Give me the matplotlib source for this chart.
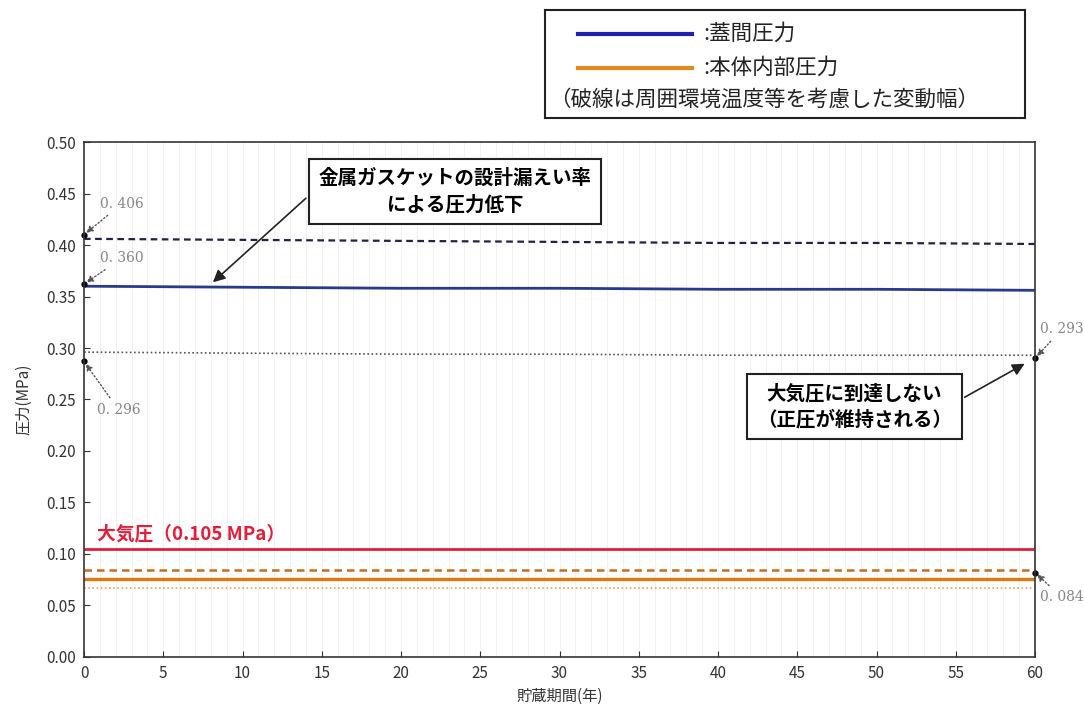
import matplotlib
matplotlib.use("Agg")
import matplotlib.pyplot as plt
import numpy as np

plt.rcParams['font.family'] = ['Noto Sans CJK JP', 'DejaVu Sans']

years = [0, 10, 20, 30, 40, 50, 60]
lid_solid = [0.360, 0.359, 0.358, 0.358, 0.357, 0.357, 0.356]
lid_upper = [0.406, 0.405, 0.404, 0.403, 0.402, 0.402, 0.401]
lid_lower = [0.296, 0.295, 0.294, 0.294, 0.293, 0.293, 0.293]
atm = [0.105, 0.105, 0.105, 0.105, 0.105, 0.105, 0.105]
body_upper = [0.084, 0.084, 0.084, 0.084, 0.084, 0.084, 0.084]
body_solid = [0.076, 0.076, 0.076, 0.076, 0.076, 0.076, 0.076]
body_lower = [0.067, 0.067, 0.067, 0.067, 0.067, 0.067, 0.067]

xticks = [0, 5, 10, 15, 20, 25, 30, 35, 40, 45, 50, 55, 60]
yticks = [0.00, 0.05, 0.10, 0.15, 0.20, 0.25, 0.30, 0.35, 0.40, 0.45, 0.50]

fig = plt.figure(figsize=(10.84, 7.18), dpi=100)
ax = fig.add_axes([0.0775, 0.085, 0.8773, 0.7172])

for yr in range(1, 60):
    ax.axvline(yr, color='#efefef', lw=0.6, zorder=0)

ax.plot(years, lid_upper, color='#222244', lw=1.6, ls=(0, (3, 2)))
ax.plot(years, lid_solid, color='#2a3a8a', lw=2.0)
ax.plot(years, lid_lower, color='#555555', lw=1.2, ls=(0, (1, 1.5)))
ax.plot(years, atm, color='#e0203a', lw=2.0)
ax.plot(years, body_upper, color='#c07020', lw=1.8, ls=(0, (3, 2)))
ax.plot(years, body_solid, color='#e07a10', lw=2.4)
ax.plot(years, body_lower, color='#e8a060', lw=1.2, ls=(0, (1, 1.5)))

ax.set_xlim(0, 60)
ax.set_ylim(0, 0.5)
ax.set_xticks(xticks)
ax.set_yticks(yticks)
ax.set_yticklabels([f"{v:.2f}" for v in yticks])
ax.tick_params(labelsize=11, colors='#333333', direction='in', length=4, pad=6)
for s in ax.spines.values():
    s.set_color('#333333')
    s.set_linewidth(1.2)
ax.set_xlabel('貯蔵期間(年)', fontsize=11, color='#333333')
ax.set_ylabel('圧力(MPa)', fontsize=11, color='#333333', labelpad=10)

# atmospheric label
ax.text(0.8, 0.110, '大気圧（0.105 MPa）', color='#e0203a', fontsize=13.5,
        fontweight='bold', va='bottom')

# value annotations
grey = '#888888'
ann_kw = dict(fontsize=10, color=grey, family=['DejaVu Serif'])
arrow_kw = dict(arrowstyle='-|>', color='#555555', ls=':', lw=1.0)
ax.annotate('0. 406', xy=(0, 0.41), xytext=(1.0, 0.44), arrowprops=arrow_kw, va='center', **ann_kw)
ax.annotate('0. 360', xy=(0, 0.362), xytext=(1.0, 0.387), arrowprops=arrow_kw, va='center', **ann_kw)
ax.annotate('0. 296', xy=(0, 0.287), xytext=(0.8, 0.24), arrowprops=arrow_kw, va='center', **ann_kw)
ax.annotate('0. 293', xy=(60, 0.290), xytext=(60.3, 0.318), arrowprops=arrow_kw, va='center',
            annotation_clip=False, **ann_kw)
ax.annotate('0. 084', xy=(60, 0.082), xytext=(60.3, 0.058), arrowprops=arrow_kw, va='center',
            annotation_clip=False, **ann_kw)
for (px, py) in [(0, 0.41), (0, 0.362), (0, 0.287), (60, 0.290), (60, 0.082)]:
    ax.plot([px], [py], 'o', color='black', ms=3.5, clip_on=False)

box_kw = dict(boxstyle='square,pad=0.5', fc='white', ec='#222222', lw=1.5)
ax.annotate('金属ガスケットの設計漏えい率\nによる圧力低下', xy=(8.0, 0.362), xytext=(23.4, 0.452),
            fontsize=14, fontweight='bold', ha='center', va='center', linespacing=1.4,
            bbox=box_kw,
            arrowprops=dict(arrowstyle='-|>', color='#222222', lw=1.2, mutation_scale=18,
                            relpos=(0.0, 0.6)))
ax.annotate('大気圧に到達しない\n（正圧が維持される）', xy=(59.5, 0.286), xytext=(48.6, 0.243),
            fontsize=14, fontweight='bold', ha='center', va='center', linespacing=1.4,
            bbox=box_kw,
            arrowprops=dict(arrowstyle='-|>', color='#222222', lw=1.2, mutation_scale=18,
                            relpos=(1.0, 0.55)))

# legend box above the axes
lax = fig.add_axes([545/1084, 1 - 118/718, 480/1084, 108/718])
lax.set_xlim(0, 480)
lax.set_ylim(108, 0)
lax.set_xticks([])
lax.set_yticks([])
for s in lax.spines.values():
    s.set_color('#222222')
    s.set_linewidth(1.5)
lax.plot([33, 147], [24, 24], color='#2020b0', lw=3)
lax.plot([33, 147], [58, 58], color='#e08a20', lw=3)
lax.text(158, 24, ':蓋間圧力', fontsize=15.5, va='center', color='#222222')
lax.text(158, 58, ':本体内部圧力', fontsize=15.5, va='center', color='#222222')
lax.text(4, 90, '（破線は周囲環境温度等を考慮した変動幅）', fontsize=15.5, va='center', color='#222222')

fig.savefig('out.png', dpi=100)
